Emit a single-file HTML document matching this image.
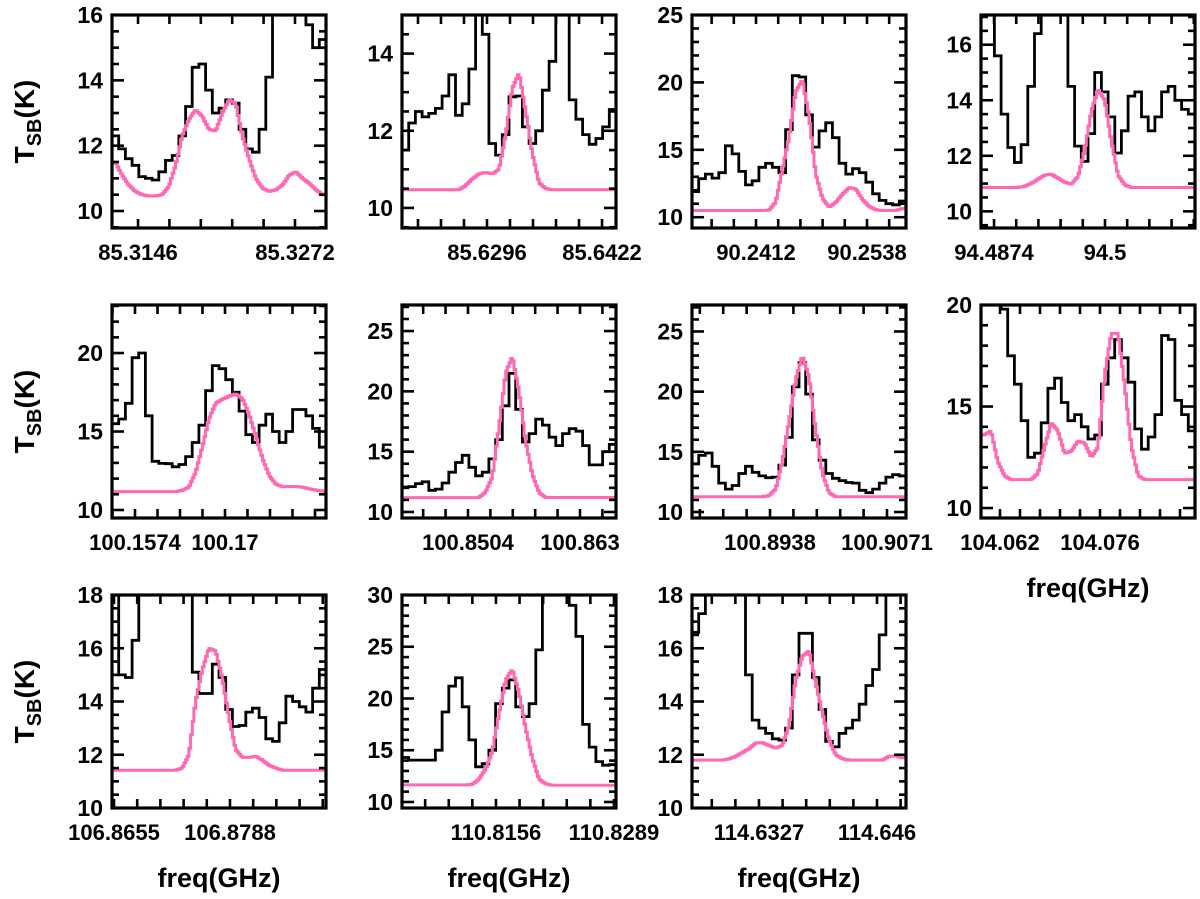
<!DOCTYPE html>
<html><head><meta charset="utf-8"><style>
html,body{margin:0;padding:0;background:#fff;}
svg{display:block;font-family:"Liberation Sans",sans-serif;}
</style></head><body>
<svg id="fig" width="1200" height="899" viewBox="0 0 1200 899" xmlns="http://www.w3.org/2000/svg"></svg>
<script>
// ---- data (observed = black histogram, model = pink) ----
const obsA=[12.3,11.9,11.6,11.4,11.05,11.0,10.95,11.2,11.55,11.7,12.3,13.2,14.4,14.5,13.7,13.0,13.15,13.4,13.3,12.5,11.9,11.8,12.5,14.1,17,17,17,17,17,15.7,15.0,15.25];
const modA=[11.5,11.1,10.8,10.6,10.5,10.46,10.46,10.5,10.75,11.4,12.3,12.8,13.1,12.9,12.5,12.45,13.0,13.4,13.3,12.3,11.6,11.0,10.7,10.6,10.65,10.8,11.1,11.2,11.0,10.85,10.65,10.5];
const obsB=[11.5,12.2,12.5,12.36,12.45,12.58,12.9,13.45,12.4,12.7,13.6,16,14.5,11.67,11.37,11.9,12.88,12.9,12.1,11.67,12.0,13.05,13.8,16,16,12.8,12.3,11.9,11.65,11.8,12.1,12.55];
const modB=[10.47,10.47,10.47,10.47,10.47,10.47,10.47,10.47,10.47,10.58,10.75,10.88,10.92,10.88,11.0,11.9,13.1,13.5,12.5,11.4,10.65,10.5,10.47,10.47,10.47,10.47,10.47,10.47,10.47,10.47,10.47,10.47];
const obsC=[11.9,12.86,13.2,12.9,13.3,15.3,14.7,13.4,12.4,12.7,13.7,14.0,13.7,13.3,16.5,20.5,20.4,17.6,15.2,16.4,17.0,15.9,14.0,13.2,13.6,13.3,12.6,11.74,11.25,11.0,10.92,11.2];
const modC=[10.5,10.5,10.5,10.5,10.5,10.5,10.5,10.5,10.5,10.5,10.5,10.52,11.1,13.5,15.9,19.3,20.2,17.5,13.2,11.4,10.75,11.1,11.7,12.2,12.1,11.3,10.8,10.55,10.5,10.5,10.5,10.65];
const obsD=[17.5,17.5,15.6,13.5,12.3,11.76,12.4,14.5,16.4,18,18,18,18,14.5,12.35,11.8,12.8,15.0,14.3,13.4,12.1,12.9,14.15,14.3,13.4,12.9,13.4,14.3,14.5,14.0,13.67,13.5];
const modD=[10.86,10.86,10.86,10.86,10.86,10.86,10.9,11.0,11.15,11.3,11.34,11.2,11.05,10.98,11.25,12.2,13.6,14.4,14.0,12.5,11.3,10.95,10.86,10.86,10.86,10.86,10.86,10.86,10.86,10.86,10.86,10.86];
const obsE=[15.5,15.8,16.8,19.7,20.0,16.0,13.1,12.97,12.95,12.75,12.9,13.4,14.3,15.4,17.6,19.2,19.0,18.3,17.5,16.3,14.8,14.3,15.4,16.1,15.0,14.3,15.0,16.4,16.4,16.0,15.2,14.0];
const modE=[11.17,11.17,11.17,11.17,11.17,11.17,11.17,11.17,11.17,11.17,11.25,11.45,12.4,14.0,15.8,16.8,17.05,17.25,17.4,17.1,16.1,14.7,13.3,12.2,11.65,11.48,11.5,11.5,11.45,11.35,11.27,11.2];
const obsF=[12.07,12.1,12.35,12.5,11.8,11.9,12.4,13.3,14.1,14.7,13.7,13.0,13.3,14.4,16.0,18.8,21.5,18.5,15.8,16.5,17.7,17.2,16.2,15.5,16.5,16.9,16.7,15.5,13.9,13.9,15.0,15.6];
const modF=[11.19,11.19,11.19,11.19,11.19,11.19,11.19,11.19,11.19,11.19,11.19,11.19,11.66,12.9,17.0,21.5,22.9,20.0,15.8,13.1,11.6,11.2,11.2,11.2,11.2,11.2,11.2,11.2,11.2,11.2,11.2,11.2];
const obsG=[14.0,14.7,14.9,13.8,12.4,11.9,12.2,13.2,13.8,13.3,13.0,12.85,12.9,13.9,16.2,20.4,22.4,19.8,16.0,14.3,13.2,12.8,12.6,12.45,12.4,11.8,11.6,11.9,12.4,12.9,13.1,13.0];
const modG=[11.27,11.27,11.27,11.27,11.27,11.27,11.27,11.27,11.27,11.27,11.27,11.35,11.9,14.2,17.5,21.0,23.0,21.2,16.8,13.2,11.6,11.27,11.27,11.27,11.27,11.27,11.27,11.27,11.27,11.27,11.27,11.27];
const obsH=[21,21,21,19.8,17.5,16.1,14.3,12.5,12.7,14.2,15.9,16.4,15.2,14.3,14.6,14.0,13.4,13.6,16.1,17.4,18.3,17.4,16.2,13.9,12.9,13.5,14.6,18.5,18.3,15.3,14.6,13.8];
const modH=[13.6,13.8,12.3,11.6,11.4,11.4,11.4,11.4,11.7,13.0,14.2,13.8,12.7,12.8,13.3,13.2,12.5,13.0,16.6,18.6,18.6,16.0,13.0,11.6,11.4,11.4,11.4,11.4,11.4,11.4,11.4,11.4];
const obsI=[18.5,15.0,14.9,16.3,18.5,18.5,18.5,18.5,18.5,18.5,18.5,18.5,15.1,14.3,14.3,15.4,14.9,13.7,13.06,13.1,13.6,13.75,13.4,12.6,12.5,13.2,14.2,14.0,13.8,13.6,14.5,15.2];
const modI=[11.42,11.42,11.42,11.42,11.42,11.42,11.42,11.42,11.42,11.42,11.5,12.0,14.0,15.2,16.0,15.9,14.86,13.4,12.2,11.9,11.9,11.94,11.8,11.6,11.5,11.42,11.42,11.42,11.42,11.42,11.42,11.42];
const obsJ=[14.3,14.05,14.05,14.05,14.05,15.0,18.7,21.2,22.0,19.2,16.0,13.4,13.7,15.0,19.5,21.0,21.8,19.2,18.25,19.5,24.7,31,31,31,31,29,26,17.5,15.3,13.9,13.56,13.6];
const modJ=[11.65,11.65,11.65,11.65,11.65,11.65,11.65,11.65,11.65,11.65,11.7,12.2,13.2,14.9,18.5,21.8,22.8,20.6,17.1,14.2,12.2,11.75,11.62,11.62,11.62,11.62,11.62,11.62,11.62,11.62,11.62,11.62];
const obsK=[16.6,17.3,18.5,18.5,18.5,18.5,18.5,18.5,15.0,13.3,13.0,12.8,12.6,12.55,13.0,15.0,16.56,16.56,14.9,13.7,12.5,12.3,12.8,13.0,13.3,13.9,14.6,15.2,16.5,18.5,18.5,18.5];
const modK=[11.8,11.8,11.8,11.8,11.8,11.84,11.93,12.08,12.22,12.44,12.46,12.35,12.25,12.35,13.1,14.8,15.7,15.9,14.7,13.56,12.55,12.0,11.85,11.8,11.8,11.8,11.8,11.8,11.8,11.95,11.95,11.88];

// ---- axis configuration ----
const freqLo=[85.31251,85.62029,90.23393,94.48592,100.15418,100.84298,100.88493,104.05934,106.86527,110.80501,114.62515];
const freqHi=[85.32969,85.64373,90.25823,94.51022,100.18414,100.86705,100.90926,104.0893,106.88981,110.82913,114.64927];
const xLabelA=["85.3146","85.6296","90.2412","94.4874","100.1574","100.8504","100.8938","104.062","106.8655","110.8156","114.6327"];
const xLabelB=["85.3272","85.6422","90.2538","94.5","100.17","100.863","100.9071","104.076","106.8788","110.8289","114.646"];
const xTickStep=[0.00252,0.00252,0.00252,0.00252,0.00315,0.00252,0.00266,0.0028,0.00266,0.00266,0.00266];
const yLo=[9.48,9.48,9.2,9.4,9.49,9.5,9.5,9.51,10,9.42,10];
const yHi=[16,15.0,25,17.07,23.06,27.16,27.2,20,18,30,18];
const yMajor=[2,2,5,2,5,5,5,5,2,5,2];
const yMinor=[0.5,0.5,1,0.5,1,1,1,1,0.5,1,0.5];
const obsSeries=[obsA,obsB,obsC,obsD,obsE,obsF,obsG,obsH,obsI,obsJ,obsK];
const modSeries=[modA,modB,modC,modD,modE,modF,modG,modH,modI,modJ,modK];

const NS="http://www.w3.org/2000/svg";
const svg=document.getElementById('fig');
const colX=[112,402,692,981], rowY=[15,305,595], PW=214, PH=213;
function mk(tag,attrs,parent){const e=document.createElementNS(NS,tag);for(const k in attrs)e.setAttribute(k,attrs[k]);(parent||svg).appendChild(e);return e;}

for(let p=0;p<11;p++){
  const col=p%4,row=Math.floor(p/4);
  const L=colX[col],T=rowY[row];
  const sx=f=>L+(f-freqLo[p])/(freqHi[p]-freqLo[p])*PW;
  const sy=v=>T+PH-(v-yLo[p])/(yHi[p]-yLo[p])*PH;
  const g=mk('g',{});
  
  
  const clip=mk('clipPath',{id:'c'+p},g);
  mk('rect',{x:L,y:T,width:PW,height:PH},clip);
  const n=obsSeries[p].length, df=(freqHi[p]-freqLo[p])/n;
  function stepPath(arr){
    let d='';
    for(let i=0;i<arr.length;i++){
      const xa=sx(freqLo[p]+i*df), xb=sx(freqLo[p]+(i+1)*df), y=sy(arr[i]);
      d+=(i===0?'M':'L')+xa.toFixed(1)+','+y.toFixed(1)+'L'+xb.toFixed(1)+','+y.toFixed(1);
    }
    return d;
  }
  // model: fine steps interpolated between channel centres
  function fineStep(arr){
    const sub=4; let d='';
    const m=arr.length*sub;
    for(let j=0;j<m;j++){
      const c=(j+0.5)/sub-0.5;
      const i0=Math.max(0,Math.min(arr.length-1,Math.floor(c)));
      const i1=Math.min(arr.length-1,i0+1);
      const t=Math.max(0,Math.min(1,c-i0));
      const v=arr[i0]*(1-t)+arr[i1]*t;
      const xa=sx(freqLo[p]+j*df/sub), xb=sx(freqLo[p]+(j+1)*df/sub), y=sy(v);
      d+=(j===0?'M':'L')+xa.toFixed(1)+','+y.toFixed(1)+'L'+xb.toFixed(1)+','+y.toFixed(1);
    }
    return d;
  }
  const ob=mk('path',{d:stepPath(obsSeries[p]),fill:'none',stroke:'#000','stroke-width':2.8,'clip-path':'url(#c'+p+')'},g);
  
  
  const md=mk('path',{d:fineStep(modSeries[p]),fill:'none',stroke:'#ff69b4','stroke-width':3,'clip-path':'url(#c'+p+')'},g);
  
  
  const eps=1e-6;
  for(let v=Math.ceil(yLo[p]/yMinor[p]-eps)*yMinor[p]; v<=yHi[p]+eps; v+=yMinor[p]){
    const isMaj=Math.abs(v/yMajor[p]-Math.round(v/yMajor[p]))<1e-6;
    const len=isMaj?12:7, y=sy(v);
    mk('line',{x1:L,x2:L+len,y1:y,y2:y,stroke:'#000','stroke-width':2.6},g);
    mk('line',{x1:L+PW,x2:L+PW-len,y1:y,y2:y,stroke:'#000','stroke-width':2.6},g);
    if(isMaj){
      const t=mk('text',{x:L-9,y:y+8,'text-anchor':'end','font-size':23,'font-weight':'bold',fill:'#000'},g);
      t.textContent=String(Math.round(v));
      
      
    }
  }
  const a=parseFloat(xLabelA[p]), st=xTickStep[p];
  const kmin=Math.ceil((freqLo[p]-a)/st-eps), kmax=Math.floor((freqHi[p]-a)/st+eps);
  for(let k=kmin;k<=kmax;k++){
    const x=sx(a+k*st);
    mk('line',{x1:x,x2:x,y1:T+PH,y2:T+PH-9,stroke:'#000','stroke-width':2.6},g);
    mk('line',{x1:x,x2:x,y1:T,y2:T+9,stroke:'#000','stroke-width':2.6},g);
  }
  [xLabelA[p],xLabelB[p]].forEach(s=>{
    const t=mk('text',{x:sx(parseFloat(s)),y:T+PH+32,'text-anchor':'middle','font-size':22,'font-weight':'bold',fill:'#000'},g);
    t.textContent=s;
    
    
  });
  const box=mk('rect',{x:L,y:T,width:PW,height:PH,fill:'none',stroke:'#000','stroke-width':3.2},g);
  
  
  if(row===2||p===7){
    const t=mk('text',{x:L+PW/2,y:T+PH+79,'text-anchor':'middle','font-size':27,'font-weight':'bold',fill:'#000'},g);
    t.textContent='freq(GHz)';
    
    
  }
  if(col===0){
    const cy=T+PH/2;
    const t=mk('text',{x:0,y:0,'text-anchor':'middle','font-size':28,'font-weight':'bold',fill:'#000',transform:'translate(34,'+cy+') rotate(-90)'},g);
    t.innerHTML='T<tspan font-size="20" dy="7">SB</tspan><tspan dy="-7">(K)</tspan>';
    
    
  }
}
</script>
</body></html>
